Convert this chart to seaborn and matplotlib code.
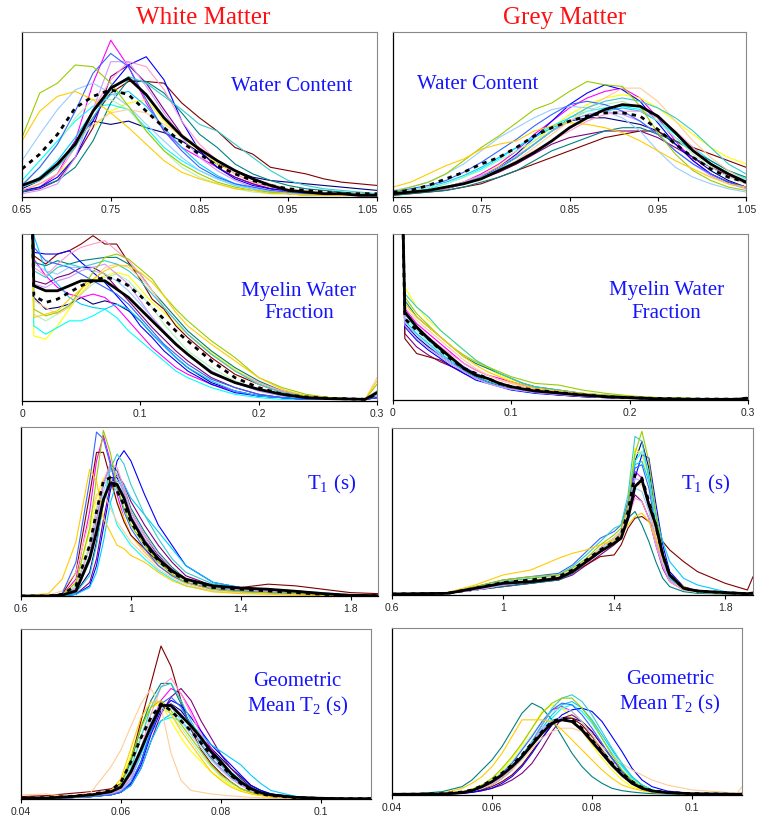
import matplotlib
matplotlib.use("Agg")
import matplotlib.pyplot as plt
import seaborn as sns
import pandas as pd

# Subjects (one colour per subject, same subject in every panel)
subject_ids = ["S%02d" % i for i in range(1, 19)]
subject_colors = ["#000080", "#FF00FF", "#FFFF00", "#00FFFF", "#800080", "#800000",
                  "#008080", "#0000FF", "#00CCFF", "#B3F2B3", "#99CCFF", "#FF99CC",
                  "#CC99FF", "#FFCC99", "#3366FF", "#33CCCC", "#99CC00", "#FFCC00"]

# ---------------- Water content ----------------
water_x = [0.65, 0.67, 0.69, 0.71, 0.73, 0.75, 0.77, 0.79, 0.81, 0.83, 0.85,
           0.87, 0.89, 0.91, 0.93, 0.95, 0.97, 0.99, 1.01, 1.03, 1.05]
water_ticks = [0.65, 0.75, 0.85, 0.95, 1.05]
water_tick_labels = ["0.65", "0.75", "0.85", "0.95", "1.05"]

wm_water = [
    [5, 10, 18, 34, 46, 44, 46, 42, 39, 34, 27, 20, 16, 12, 10, 9, 8, 7, 6, 5, 4],
    [3, 6, 14, 34, 69, 95, 79, 57, 40, 30, 24, 18, 12, 8, 5, 3, 2, 2, 1, 1, 1],
    [4, 8, 14, 24, 42, 52, 57, 59, 46, 36, 28, 20, 14, 9, 6, 4, 3, 2, 2, 1, 1],
    [10, 22, 34, 46, 55, 56, 53, 42, 30, 22, 16, 11, 7, 5, 3, 2, 2, 1, 1, 1, 1],
    [3, 5, 10, 24, 42, 73, 80, 69, 53, 38, 28, 18, 12, 8, 5, 4, 3, 2, 2, 1, 1],
    [6, 12, 20, 32, 48, 63, 70, 70, 69, 57, 48, 40, 30, 26, 18, 16, 14, 11, 9, 8, 7],
    [3, 6, 10, 18, 34, 57, 71, 70, 63, 51, 38, 30, 20, 14, 10, 7, 5, 4, 3, 2, 2],
    [4, 6, 12, 24, 46, 67, 80, 85, 71, 46, 28, 18, 11, 7, 5, 4, 3, 2, 2, 1, 1],
    [6, 12, 22, 36, 52, 62, 64, 55, 42, 30, 20, 13, 8, 5, 3, 2, 2, 1, 1, 1, 1],
    [8, 18, 32, 48, 59, 59, 53, 40, 28, 18, 12, 8, 5, 3, 2, 2, 1, 1, 1, 1, 1],
    [22, 38, 53, 65, 69, 63, 55, 44, 34, 24, 16, 11, 7, 5, 3, 2, 2, 1, 1, 1, 1],
    [4, 8, 14, 30, 53, 71, 82, 79, 65, 46, 32, 22, 14, 9, 6, 4, 3, 2, 2, 1, 1],
    [2, 4, 8, 24, 53, 82, 82, 67, 51, 36, 24, 16, 10, 6, 4, 3, 2, 2, 1, 1, 1],
    [6, 10, 18, 32, 44, 51, 53, 51, 44, 38, 30, 22, 16, 11, 8, 5, 4, 3, 2, 2, 1],
    [7, 18, 32, 52, 75, 87, 79, 59, 40, 28, 18, 12, 8, 6, 4, 3, 2, 2, 1, 1, 1],
    [6, 10, 18, 30, 48, 65, 73, 69, 61, 53, 44, 40, 32, 24, 16, 10, 7, 5, 4, 3, 2],
    [36, 63, 69, 80, 79, 69, 55, 40, 28, 20, 14, 9, 6, 4, 3, 2, 1, 1, 1, 1, 1],
    [34, 52, 61, 64, 59, 51, 42, 32, 22, 15, 11, 8, 5, 4, 2, 2, 1, 1, 1, 1, 1],
]
wm_water_mean = [7, 11, 20, 32, 52, 66, 72, 62, 48, 37, 29, 22, 16, 11, 7, 4, 3, 2, 2, 1, 1]
wm_water_ref = [17, 26, 38, 54, 61, 65, 62, 52, 42, 33, 26, 19, 14, 10, 7, 5, 4, 3, 2, 2, 2]

gm_water = [
    [2, 3, 4, 6, 9, 13, 18, 24, 32, 40, 46, 48, 48, 46, 44, 40, 32, 24, 16, 10, 6],
    [2, 3, 4, 6, 9, 14, 20, 28, 38, 46, 54, 60, 64, 66, 60, 48, 34, 22, 14, 9, 6],
    [2, 3, 4, 6, 9, 13, 19, 26, 34, 42, 50, 56, 60, 62, 60, 54, 46, 38, 30, 24, 20],
    [2, 3, 5, 8, 12, 17, 23, 30, 37, 43, 48, 52, 54, 55, 53, 46, 38, 30, 22, 16, 11],
    [2, 3, 4, 5, 8, 11, 15, 20, 26, 32, 36, 38, 40, 40, 40, 36, 30, 24, 18, 13, 9],
    [1, 2, 3, 4, 6, 8, 12, 16, 20, 24, 28, 32, 36, 38, 40, 40, 34, 30, 26, 22, 18],
    [1, 2, 3, 4, 6, 9, 12, 16, 22, 28, 32, 36, 40, 42, 42, 38, 34, 28, 22, 16, 12],
    [2, 3, 4, 5, 8, 12, 18, 26, 36, 46, 56, 63, 68, 65, 58, 45, 32, 22, 14, 9, 6],
    [3, 4, 6, 9, 13, 18, 24, 30, 36, 42, 46, 50, 52, 54, 52, 46, 36, 28, 20, 14, 10],
    [3, 4, 6, 8, 12, 16, 22, 28, 34, 40, 46, 52, 56, 58, 54, 46, 36, 26, 18, 12, 8],
    [4, 6, 9, 14, 20, 28, 36, 42, 48, 53, 55, 54, 52, 48, 40, 28, 18, 12, 8, 5, 3],
    [2, 3, 4, 6, 8, 12, 16, 22, 28, 34, 40, 46, 50, 52, 52, 48, 40, 30, 20, 13, 8],
    [2, 3, 4, 6, 9, 13, 18, 25, 32, 40, 46, 50, 52, 50, 46, 38, 28, 20, 13, 8, 5],
    [2, 3, 4, 5, 8, 11, 16, 22, 30, 38, 46, 54, 60, 66, 66, 58, 46, 34, 24, 16, 10],
    [3, 5, 7, 10, 15, 21, 28, 35, 43, 50, 56, 58, 56, 52, 46, 38, 28, 20, 14, 9, 6],
    [2, 3, 4, 6, 8, 12, 17, 24, 32, 40, 48, 54, 58, 60, 58, 54, 48, 40, 30, 20, 14],
    [3, 6, 9, 14, 22, 30, 37, 45, 53, 57, 64, 70, 68, 67, 55, 39, 26, 16, 10, 6, 4],
    [6, 9, 14, 19, 23, 29, 32, 34, 40, 43, 45, 44, 42, 39, 34, 28, 22, 17, 12, 8, 6],
]
gm_water_mean = [2, 3, 4, 6, 8, 11, 16, 21, 27, 34, 42, 48, 53, 56, 55, 49, 39, 28, 20, 14, 9]
gm_water_ref = [3, 4, 7, 11, 15, 20, 24, 30, 37, 42, 46, 49, 51, 51, 49, 41, 32, 24, 17, 12, 9]

# ---------------- Myelin water fraction ----------------
mwf_ticks = [0, 0.1, 0.2, 0.3]
mwf_tick_labels = ["0", "0.1", "0.2", "0.3"]

wm_mwf_x = [0, 0.01, 0.02, 0.03, 0.04, 0.05, 0.06, 0.07, 0.08, 0.09, 0.10, 0.11,
            0.12, 0.13, 0.14, 0.16, 0.18, 0.20, 0.22, 0.24, 0.26, 0.29, 0.30]
wm_mwf = [
    [400, 62, 55, 56, 58, 62, 58, 60, 58, 54, 48, 40, 33, 26, 20, 11, 6, 3, 2, 1, 1, 1, 2],
    [400, 85, 75, 68, 64, 62, 64, 62, 56, 48, 40, 32, 26, 20, 16, 10, 6, 3, 2, 1, 1, 1, 2],
    [400, 39, 37, 45, 55, 65, 72, 75, 77, 75, 67, 59, 53, 46, 40, 29, 19, 11, 6, 3, 2, 1, 6],
    [400, 45, 40, 44, 48, 48, 51, 55, 50, 42, 36, 30, 24, 18, 14, 8, 4, 2, 1, 1, 1, 1, 3],
    [400, 72, 70, 74, 76, 80, 80, 76, 68, 60, 52, 44, 37, 30, 24, 14, 8, 4, 2, 1, 1, 1, 2],
    [400, 87, 82, 88, 90, 94, 99, 94, 94, 83, 73, 61, 55, 45, 38, 26, 16, 10, 5, 3, 2, 1, 4],
    [400, 83, 81, 84, 82, 84, 85, 86, 86, 82, 76, 66, 58, 50, 42, 30, 20, 12, 6, 3, 2, 1, 4],
    [400, 89, 88, 88, 90, 83, 77, 71, 63, 55, 45, 38, 30, 24, 18, 10, 5, 3, 2, 1, 1, 1, 2],
    [400, 99, 78, 70, 62, 58, 56, 55, 58, 55, 48, 40, 33, 26, 20, 12, 6, 3, 2, 1, 1, 1, 3],
    [400, 52, 48, 52, 58, 64, 70, 74, 76, 72, 64, 56, 46, 38, 30, 20, 12, 7, 3, 2, 1, 1, 4],
    [400, 82, 78, 76, 80, 80, 78, 76, 72, 66, 58, 50, 42, 35, 28, 18, 11, 6, 3, 2, 1, 1, 3],
    [400, 80, 75, 82, 88, 92, 94, 96, 90, 84, 76, 66, 56, 48, 40, 28, 18, 11, 6, 3, 2, 1, 6],
    [400, 70, 68, 72, 74, 78, 80, 82, 76, 70, 60, 50, 42, 34, 28, 18, 11, 6, 3, 2, 1, 1, 3],
    [400, 60, 56, 52, 56, 64, 72, 80, 82, 80, 74, 66, 56, 48, 40, 28, 18, 10, 5, 3, 2, 1, 14],
    [400, 92, 84, 82, 80, 76, 72, 68, 64, 58, 50, 42, 34, 28, 22, 13, 8, 4, 2, 1, 1, 1, 2],
    [400, 78, 74, 80, 82, 80, 82, 84, 82, 78, 72, 64, 56, 48, 40, 28, 18, 10, 5, 3, 2, 1, 6],
    [400, 55, 51, 53, 57, 67, 77, 86, 88, 85, 79, 73, 63, 55, 48, 36, 26, 14, 8, 4, 2, 1, 10],
    [400, 50, 52, 54, 61, 67, 73, 78, 81, 81, 77, 71, 63, 53, 45, 34, 24, 14, 7, 3, 2, 1, 12],
]
wm_mwf_mean = [400, 69, 66, 66, 69, 72, 72, 72, 67, 62, 55, 48, 41, 34, 28, 17, 11, 7, 4, 2, 1.4, 1, 5]
wm_mwf_ref = [400, 63, 59, 61, 65, 69, 72, 74, 73, 69, 63, 56, 49, 42, 36, 24, 14, 8, 4, 2.4, 1.6, 1, 4]

gm_mwf_x = [0, 0.01, 0.02, 0.03, 0.04, 0.05, 0.06, 0.07, 0.08, 0.09, 0.10,
            0.11, 0.12, 0.14, 0.16, 0.18, 0.20, 0.22, 0.25, 0.29, 0.30]
gm_mwf = [
    [400, 46, 38, 32, 27, 22, 18, 14, 11, 9, 7, 6, 5, 3.6, 2.5, 1.6, 1, 0.6, 0.4, 0.3, 0.8],
    [400, 55, 46, 40, 34, 28, 22, 18, 15, 13, 11, 9, 7, 5, 3.5, 2.5, 1.6, 1, 0.6, 0.4, 1],
    [400, 68, 56, 48, 42, 36, 30, 24, 19, 15, 12, 10, 8, 6, 4, 3, 2, 1.4, 1, 0.6, 1.2],
    [400, 50, 42, 36, 30, 24, 19, 15, 12, 10, 8, 6.5, 5.5, 4, 3, 2, 1.3, 0.8, 0.5, 0.4, 0.8],
    [400, 40, 32, 27, 23, 20, 16, 13, 11, 9, 7, 5.5, 4.5, 3.2, 2.2, 1.5, 1, 0.6, 0.4, 0.3, 0.8],
    [400, 37, 28, 26, 24, 20, 17, 14, 11, 9, 7, 5.5, 4.5, 3, 2, 1.4, 1, 0.6, 0.4, 0.3, 0.8],
    [400, 60, 50, 44, 38, 32, 26, 22, 19, 16, 13, 10, 8, 6, 4, 2.8, 1.8, 1.2, 0.8, 0.5, 1],
    [400, 44, 36, 30, 25, 20, 16, 12, 10, 8, 6, 5, 4, 3, 2, 1.4, 1, 0.6, 0.4, 0.3, 0.8],
    [400, 48, 40, 34, 28, 23, 18, 14, 11, 9, 7.5, 6, 5, 3.8, 2.7, 1.8, 1.2, 0.8, 0.5, 0.4, 0.8],
    [400, 50, 42, 35, 29, 24, 19, 15, 12, 9.5, 7.5, 6, 5, 3.6, 2.5, 1.6, 1, 0.6, 0.4, 0.3, 0.8],
    [400, 47, 39, 33, 27, 22, 17, 13, 10, 8, 6.5, 5.5, 4.5, 3.4, 2.4, 1.6, 1, 0.6, 0.4, 0.3, 0.8],
    [400, 52, 44, 38, 32, 27, 22, 18, 15, 12, 10, 8, 6.5, 4.8, 3.4, 2.3, 1.5, 1, 0.6, 0.4, 0.9],
    [400, 45, 37, 31, 26, 21, 17, 13, 10, 8, 6.5, 5.5, 4.5, 3.3, 2.3, 1.5, 1, 0.6, 0.4, 0.3, 0.8],
    [400, 56, 48, 42, 36, 30, 24, 19, 15, 12, 10, 8, 6.5, 5, 3.5, 2.4, 1.6, 1, 0.6, 0.4, 1],
    [400, 52, 43, 36, 30, 25, 20, 16, 13, 10, 8, 6.5, 5.5, 4, 3, 2, 1.3, 0.8, 0.5, 0.4, 0.8],
    [400, 64, 56, 50, 42, 36, 30, 24, 20, 16, 13, 10, 8, 6, 4, 3, 2, 1.4, 1, 0.6, 1],
    [400, 62, 52, 45, 38, 32, 27, 23, 20, 17, 14, 12, 10, 9, 6, 4, 2.5, 1.6, 1, 0.6, 1],
    [400, 58, 50, 44, 38, 32, 26, 21, 17, 14, 11, 9, 7, 5.5, 4, 2.8, 1.8, 1.2, 0.8, 0.5, 1],
]
gm_mwf_mean = [400, 53, 44, 37, 31, 25, 19, 15, 13, 10, 8, 6.6, 5.4, 4.2, 3, 2, 1.4, 0.8, 0.4, 0.4, 1]
gm_mwf_ref = [400, 49, 42, 37, 30, 24, 19, 16, 13, 10, 8, 7, 6, 4.5, 3.2, 2, 1.4, 1, 0.6, 0.5, 1.2]

# ---------------- T1 ----------------
t1_ticks = [0.6, 1.0, 1.4, 1.8]
t1_tick_labels = ["0.6", "1", "1.4", "1.8"]

wm_t1_x = [0.6, 0.7, 0.75, 0.8, 0.85, 0.875, 0.9, 0.925, 0.95, 0.975, 1.0,
           1.05, 1.1, 1.15, 1.2, 1.3, 1.4, 1.5, 1.6, 1.7, 1.8, 1.9]
wm_t1 = [
    [0, 0, 0, 2, 14, 32, 55, 70, 70, 62, 50, 36, 24, 16, 10, 5, 4, 3, 2, 1, 0.4, 0.2],
    [0, 0, 0.5, 10, 50, 80, 95, 80, 60, 46, 36, 26, 18, 12, 8, 4, 2.5, 2, 1.5, 1, 0.5, 0.2],
    [0, 0, 1, 8, 38, 58, 70, 66, 56, 46, 36, 26, 18, 12, 8, 4, 3, 2, 1.5, 1, 0.4, 0.2],
    [0, 0, 0.5, 6, 30, 52, 62, 55, 42, 36, 30, 22, 15, 10, 6, 3, 2, 1.5, 1, 0.5, 0.2, 0.1],
    [0, 0, 0, 1, 8, 22, 45, 65, 72, 66, 56, 42, 30, 20, 12, 6, 4, 3, 2, 1, 0.4, 0.2],
    [0, 0, 1, 14, 60, 85, 85, 70, 55, 44, 36, 28, 20, 14, 10, 6, 5, 7, 6, 4, 2, 1.4],
    [0, 0, 0.5, 4, 24, 45, 66, 78, 74, 64, 52, 38, 26, 17, 10, 5, 4, 3, 2, 1, 0.4, 0.2],
    [0, 0, 0, 1, 6, 18, 40, 62, 80, 86, 80, 60, 42, 30, 18, 8, 5, 4, 3, 1.5, 0.5, 0.2],
    [0, 0, 0, 1, 5, 14, 32, 55, 68, 66, 58, 48, 38, 28, 18, 8, 5, 4, 3, 2, 0.5, 0.2],
    [0, 0, 1, 6, 30, 52, 66, 70, 62, 52, 42, 30, 20, 13, 8, 4, 3, 2, 1.5, 1, 0.4, 0.2],
    [0, 0, 0.5, 4, 20, 40, 62, 74, 72, 62, 50, 36, 25, 16, 10, 5, 4, 3, 2, 1, 0.4, 0.2],
    [0, 0, 0.5, 5, 28, 50, 68, 78, 76, 64, 50, 36, 25, 16, 10, 5, 4, 3, 2, 1, 0.4, 0.2],
    [0, 0, 0.5, 4, 22, 44, 66, 76, 72, 60, 48, 34, 23, 15, 9, 5, 4, 3, 2, 1, 0.4, 0.2],
    [0, 0.5, 3, 14, 45, 60, 62, 52, 44, 38, 32, 24, 16, 11, 7, 3, 2, 1.5, 1, 0.5, 0.2, 0.1],
    [0, 0, 1.4, 20, 68, 97, 93, 78, 64, 50, 40, 28, 18, 12, 8, 4, 3, 2, 1.5, 1, 0.5, 0.2],
    [0, 0, 0, 2, 12, 30, 55, 75, 84, 78, 66, 48, 34, 22, 14, 7, 5, 4, 3, 1.5, 0.5, 0.2],
    [0, 0, 0.5, 8, 40, 70, 98, 85, 65, 52, 42, 30, 20, 13, 8, 4, 2.5, 2, 1.5, 1, 0.5, 0.2],
    [0, 1.4, 10, 32, 75, 68, 46, 38, 30, 28, 24, 20, 14, 9, 6, 2.4, 1.4, 1, 0.5, 0.3, 0.2, 0.1],
]
wm_t1_mean = [0, 0, 0.5, 3, 22, 38, 57, 67, 66, 58, 46, 32, 22, 15, 10, 6, 4.7, 4, 2.8, 1.4, 0.4, 0.2]
wm_t1_ref = [0, 0, 1, 6, 30, 50, 68, 70, 62, 54, 44, 31, 21, 14, 9, 5, 4, 3, 2, 1, 0.3, 0.2]

gm_t1_x = [0.6, 0.8, 0.9, 1.0, 1.1, 1.2, 1.25, 1.3, 1.35, 1.4, 1.425, 1.45,
           1.475, 1.5, 1.525, 1.55, 1.575, 1.6, 1.65, 1.7, 1.8, 1.88, 1.9]
gm_t1 = [
    [0.5, 1, 3, 6, 8, 10, 14, 20, 28, 34, 38, 50, 80, 92, 76, 46, 24, 12, 4, 2, 1, 0.6, 1],
    [0.5, 1, 3, 6, 8, 9, 13, 19, 26, 32, 36, 52, 74, 70, 56, 34, 18, 9, 3, 2, 1, 0.6, 1],
    [0.5, 1, 4, 8, 10, 11, 14, 20, 28, 34, 38, 56, 88, 84, 68, 44, 24, 12, 4, 2, 1, 0.6, 1],
    [0.5, 1, 3, 6, 8, 10, 14, 20, 26, 32, 36, 50, 80, 86, 72, 46, 24, 11, 4, 2, 1, 0.6, 1],
    [0.5, 1, 3, 5, 7, 9, 12, 18, 24, 30, 34, 46, 60, 56, 46, 30, 16, 8, 3, 2, 1, 0.6, 1],
    [0.5, 1, 3, 6, 7, 10, 14, 18, 23, 24, 30, 40, 46, 47, 44, 38, 32, 27, 20, 14, 7, 3, 11],
    [0.5, 1, 3, 5, 7, 9, 13, 19, 26, 32, 38, 46, 50, 42, 32, 20, 10, 5, 2, 1, 0.6, 0.3, 0.6],
    [0.5, 1, 3, 6, 8, 10, 14, 20, 28, 34, 38, 48, 70, 84, 82, 55, 30, 14, 5, 2.4, 1.2, 0.6, 1],
    [0.5, 1, 3, 6, 8, 10, 14, 20, 27, 33, 38, 54, 78, 80, 68, 48, 32, 20, 10, 6, 2, 0.8, 1],
    [0.5, 1, 3, 6, 8, 10, 14, 20, 27, 33, 38, 56, 84, 86, 70, 44, 22, 8, 3, 1.5, 1, 0.6, 1],
    [0.5, 1, 3, 6, 8, 10, 14, 20, 27, 34, 38, 50, 64, 62, 50, 32, 18, 9, 3, 2, 1, 0.6, 1],
    [0.5, 1, 3, 6, 8, 10, 14, 19, 26, 32, 36, 46, 58, 56, 46, 30, 17, 8, 3, 2, 1, 0.6, 1],
    [0.5, 1, 3, 6, 8, 10, 14, 20, 28, 34, 38, 52, 70, 68, 54, 34, 18, 9, 3, 2, 1, 0.6, 1],
    [0.5, 1, 4, 7, 9, 11, 15, 21, 28, 34, 38, 50, 66, 66, 54, 36, 20, 10, 3, 2, 1, 0.6, 1],
    [0.5, 1.5, 5, 9, 11, 13, 18, 26, 34, 38, 42, 56, 76, 78, 64, 40, 22, 10, 4, 2, 1, 0.6, 1],
    [0.5, 1, 4, 8, 10, 12, 17, 24, 32, 40, 42, 60, 95, 92, 70, 42, 22, 10, 4, 2, 1, 0.6, 1],
    [0.5, 1, 5, 9, 11, 12, 16, 22, 30, 36, 40, 54, 85, 98, 80, 50, 26, 12, 4, 2, 1, 0.6, 1],
    [0.5, 1.5, 6, 12, 15, 22, 25, 27, 30, 33, 36, 42, 47, 49, 44, 34, 22, 12, 5, 2.4, 1, 0.6, 1],
]
gm_t1_mean = [0.6, 1, 4, 7, 8, 10, 14, 20, 26, 31, 34, 46, 65, 69, 54, 42, 24, 12, 4, 2.4, 1.4, 0.8, 1.2]
gm_t1_ref = [0.6, 1, 4, 7.5, 9, 11, 15, 21, 27, 32, 36, 50, 72, 70, 56, 42, 24, 12, 4, 2.4, 1.4, 0.8, 1]

# ---------------- Geometric mean T2 ----------------
t2_ticks = [0.04, 0.06, 0.08, 0.1]
t2_tick_labels = ["0.04", "0.06", "0.08", "0.1"]

wm_t2_x = [0.04, 0.045, 0.05, 0.054, 0.058, 0.06, 0.062, 0.064, 0.066, 0.068, 0.07, 0.072,
           0.074, 0.076, 0.078, 0.08, 0.082, 0.084, 0.086, 0.088, 0.09, 0.095, 0.1, 0.105, 0.11]
wm_t2 = [
    [0.4, 0.6, 0.8, 1.4, 2.5, 4, 9, 22, 40, 54, 56, 52, 44, 36, 30, 24, 18, 13, 8, 5, 3, 1, 0.4, 0.2, 0.2],
    [0.4, 0.6, 1, 1.6, 3, 5, 12, 26, 44, 58, 65, 62, 52, 40, 30, 22, 15, 10, 6, 4, 2.4, 1, 0.4, 0.2, 0.2],
    [0.4, 0.6, 1, 2, 4, 10, 26, 44, 54, 56, 46, 36, 28, 22, 16, 12, 8, 5, 3, 2, 1.2, 0.6, 0.3, 0.2, 0.2],
    [0.4, 0.6, 0.8, 1.4, 2.5, 5, 12, 26, 40, 46, 48, 46, 40, 34, 28, 22, 16, 11, 7, 4, 2.4, 1, 0.4, 0.2, 0.2],
    [0.4, 0.6, 0.8, 1.4, 2.5, 4, 8, 18, 34, 50, 60, 65, 58, 46, 36, 26, 18, 12, 7, 4, 2.4, 1, 0.4, 0.2, 0.2],
    [1.4, 2, 3.3, 4.3, 6, 9, 23, 46, 68, 90, 78, 58, 41, 29, 21, 15, 10, 6, 4, 2.4, 1.4, 0.6, 0.3, 0.2, 0.2],
    [0.4, 0.6, 1, 2, 4, 8, 22, 42, 58, 68, 68, 56, 42, 32, 24, 18, 13, 9, 6, 3.5, 2, 0.8, 0.4, 0.2, 0.2],
    [0.4, 0.6, 0.8, 1.4, 2.5, 4, 9, 20, 38, 52, 58, 55, 48, 40, 32, 26, 20, 14, 8, 5, 3, 1, 0.4, 0.2, 0.2],
    [0.4, 0.6, 0.8, 1.4, 2.5, 4, 8, 18, 34, 46, 50, 48, 44, 38, 32, 28, 24, 20, 14, 9, 5, 1.5, 0.5, 0.2, 0.2],
    [0.4, 0.6, 1, 2, 4, 8, 20, 38, 50, 54, 50, 42, 34, 26, 19, 13, 9, 6, 4, 2.4, 1.4, 0.6, 0.3, 0.2, 0.2],
    [0.4, 0.6, 0.8, 1.6, 3, 6, 14, 30, 46, 56, 54, 46, 38, 30, 23, 17, 12, 8, 5, 3, 1.8, 0.8, 0.4, 0.2, 0.2],
    [0.4, 0.6, 1, 2, 3, 6, 14, 30, 50, 66, 71, 62, 50, 38, 28, 20, 14, 9, 6, 3.5, 2, 0.8, 0.4, 0.2, 0.2],
    [0.4, 0.6, 0.8, 1.6, 3, 5, 12, 28, 44, 54, 56, 50, 42, 33, 25, 18, 12, 8, 5, 3, 1.8, 0.8, 0.4, 0.2, 0.2],
    [2.4, 3, 1.4, 4, 19, 29, 43, 56, 65, 54, 27, 11, 5, 4, 3, 2.4, 1.8, 1.4, 1, 0.8, 0.6, 0.3, 0.2, 0.2, 0.2],
    [0.4, 0.6, 0.8, 1.4, 2.5, 4, 10, 22, 40, 56, 60, 54, 44, 35, 27, 20, 14, 9, 6, 3.5, 2, 0.8, 0.4, 0.2, 0.2],
    [0.4, 0.6, 1, 2, 4, 7, 18, 36, 54, 66, 68, 58, 46, 35, 27, 20, 14, 10, 6, 4, 2.4, 1, 0.4, 0.2, 0.2],
    [0.4, 0.6, 1, 2, 4, 9, 24, 42, 54, 58, 52, 44, 36, 28, 20, 14, 10, 6, 4, 2.4, 1.4, 0.6, 0.3, 0.2, 0.2],
    [0.4, 0.6, 1, 2, 5, 12, 30, 48, 57, 57, 50, 40, 32, 24, 16, 11, 7, 4.5, 3, 2, 1.2, 0.6, 0.3, 0.2, 0.2],
]
wm_t2_mean = [0.4, 0.6, 1.4, 2.4, 4.3, 7, 16, 29, 43, 55, 55, 49, 43, 36, 28, 22, 15, 10, 6, 3.7, 2.4, 1, 0.4, 0.2, 0.2]
wm_t2_ref = [0.6, 0.8, 1.6, 2.6, 5, 10, 22, 36, 48, 56, 52, 46, 40, 33, 26, 20, 14, 9, 5, 3, 2, 0.8, 0.4, 0.2, 0.2]

gm_t2_x = [0.04, 0.045, 0.05, 0.054, 0.056, 0.058, 0.06, 0.062, 0.064, 0.066, 0.068, 0.07, 0.072, 0.074,
           0.076, 0.078, 0.08, 0.082, 0.084, 0.086, 0.088, 0.09, 0.092, 0.095, 0.1, 0.105, 0.109, 0.11]
gm_t2 = [
    [0.4, 0.4, 0.6, 1.2, 2.2, 3.6, 6, 10, 15, 22, 30, 38, 44, 46, 46, 44, 38, 30, 22, 14, 8, 4.5, 2.4, 1.2, 0.6, 0.4, 0.4, 0.4],
    [0.4, 0.5, 0.6, 1.4, 2.6, 4.5, 7, 11, 16, 23, 32, 42, 51, 53, 50, 44, 36, 27, 19, 12, 7, 4, 2, 1, 0.6, 0.4, 0.4, 0.4],
    [0.4, 0.5, 0.8, 2, 3.5, 6, 10, 15, 22, 30, 40, 50, 54, 52, 46, 38, 30, 22, 15, 9, 5, 3, 1.8, 1, 0.6, 0.4, 0.4, 0.4],
    [0.4, 0.5, 0.6, 1.4, 2.4, 4, 7, 11, 16, 22, 30, 38, 46, 52, 54, 50, 43, 34, 25, 17, 10, 6, 3, 1.4, 0.6, 0.4, 0.4, 0.4],
    [0.4, 0.4, 0.5, 1, 1.6, 2.6, 4, 6, 9, 13, 19, 28, 38, 46, 48, 44, 38, 30, 22, 14, 8, 4.5, 2.4, 1.2, 0.6, 0.4, 0.4, 0.4],
    [0.4, 0.4, 0.5, 1, 1.8, 3, 5, 8, 12, 18, 26, 34, 42, 46, 46, 42, 35, 27, 19, 12, 7, 4, 2, 1, 0.6, 0.4, 0.4, 0.4],
    [0.4, 0.8, 2, 5, 9, 15, 21, 29, 39, 49, 55, 52, 45, 35, 25, 17, 11, 7, 4, 2.6, 1.8, 1.2, 0.8, 0.6, 0.4, 0.4, 0.4, 0.4],
    [0.4, 0.4, 0.5, 1, 1.6, 2.6, 4, 7, 11, 17, 25, 34, 42, 48, 51, 52, 50, 44, 35, 26, 16, 9, 5, 2.4, 0.8, 0.4, 0.4, 0.4],
    [0.4, 0.5, 0.6, 1.4, 2.4, 4, 7, 11, 16, 23, 31, 40, 48, 54, 56, 52, 45, 36, 27, 18, 11, 6, 3, 1.5, 0.6, 0.4, 0.4, 0.4],
    [0.4, 0.5, 0.8, 1.8, 3, 5, 9, 14, 20, 28, 36, 44, 50, 52, 50, 44, 36, 28, 20, 13, 8, 4.5, 2.4, 1.2, 0.6, 0.4, 0.4, 0.4],
    [0.4, 0.5, 0.6, 1.4, 2.4, 4, 7, 11, 17, 24, 32, 40, 45, 46, 44, 39, 32, 25, 18, 12, 7, 4, 2, 1, 0.6, 0.4, 0.4, 0.4],
    [0.4, 0.5, 0.6, 1.4, 2.4, 4, 7, 11, 16, 23, 31, 38, 43, 45, 44, 40, 33, 26, 19, 12, 7, 4, 2, 1, 0.6, 0.4, 0.4, 0.4],
    [0.4, 0.5, 0.6, 1.4, 2.4, 4, 7, 11, 16, 23, 31, 39, 44, 46, 44, 38, 31, 24, 17, 11, 7, 4, 2, 1, 0.6, 0.4, 0.4, 0.4],
    [0.4, 0.5, 0.8, 1.6, 2.6, 4, 6, 10, 15, 21, 28, 34, 38, 40, 40, 38, 34, 29, 24, 19, 15, 12, 9, 6, 3, 2, 1, 5],
    [0.4, 0.5, 0.7, 1.6, 2.8, 4.6, 8, 13, 19, 27, 35, 44, 51, 55, 54, 48, 40, 31, 22, 14, 8, 4.5, 2.4, 1.2, 0.6, 0.4, 0.4, 0.4],
    [0.4, 0.5, 0.6, 1.4, 2.6, 4.5, 8, 12, 17, 24, 32, 42, 52, 58, 60, 56, 48, 38, 28, 19, 11, 6, 3, 1.5, 0.6, 0.4, 0.4, 0.4],
    [0.4, 0.5, 0.8, 2, 3.5, 6, 10, 16, 23, 31, 40, 49, 55, 58, 58, 52, 44, 34, 24, 15, 9, 5, 2.6, 1.4, 0.6, 0.4, 0.4, 0.4],
    [0.4, 0.6, 1, 4, 7, 11, 17, 25, 35, 45, 45, 45, 44, 39, 33, 27, 21, 15, 10, 6, 4, 2.6, 1.6, 1, 0.6, 0.4, 0.4, 0.4],
]
gm_t2_mean = [0.4, 0.5, 0.6, 1.4, 2.6, 5, 8, 12, 17, 23, 30, 37, 43, 45, 44, 39, 32, 25, 18, 12, 7, 4, 2.4, 1.4, 0.8, 0.6, 0.4, 0.6]
gm_t2_ref = [0.4, 0.5, 0.8, 1.8, 3, 5.5, 9, 13, 18, 24, 31, 38, 44, 46, 45, 40, 33, 26, 19, 13, 8, 4.5, 2.6, 1.5, 0.8, 0.6, 0.4, 0.6]


# Turn one panel's subject curves into a long table for seaborn
def long_frame(x, curves):
    frames = []
    for sid, ys in zip(subject_ids, curves):
        assert len(ys) == len(x), (sid, len(ys), len(x))
        frames.append(pd.DataFrame({"x": x, "freq": ys, "subject": sid}))
    return pd.concat(frames, ignore_index=True)


def draw_panel(ax, x, curves, mean, ref, xlim, ticks, tick_labels, label, label_xy):
    df = long_frame(x, curves)
    sns.lineplot(data=df, x="x", y="freq", hue="subject", palette=dict(zip(subject_ids, subject_colors)),
                 estimator=None, sort=False, errorbar=None, legend=False, linewidth=0.8, ax=ax)

    # group mean (solid) and reference (dashed)
    sns.lineplot(x=x, y=mean, color="black", linewidth=2.0, estimator=None, sort=False,
                 errorbar=None, ax=ax, zorder=5)
    sns.lineplot(x=x, y=ref, color="black", linewidth=2.0, linestyle=(0, (1.6, 1.8)),
                 estimator=None, sort=False, errorbar=None, ax=ax, zorder=6)

    ax.set_xlim(*xlim)
    ax.set_ylim(0, 100)
    ax.set_xticks(ticks)
    ax.set_xticklabels(tick_labels)
    ax.set_yticks([])
    ax.set_xlabel("")
    ax.set_ylabel("")
    ax.tick_params(axis="x", bottom=True, direction="out", length=3, width=0.8,
                   pad=3, labelsize=7.5, color="black")
    for side in ["top", "right"]:
        ax.spines[side].set_color("#888888")
        ax.spines[side].set_linewidth(0.8)
    for side in ["left", "bottom"]:
        ax.spines[side].set_color("black")
        ax.spines[side].set_linewidth(0.9)

    ax.text(label_xy[0], label_xy[1], label, transform=ax.transAxes, ha="center", va="center",
            fontsize=15, color="#1414FF", family="Liberation Serif", linespacing=1.25)


sns.set_style("white")
plt.rcParams["font.family"] = ["Liberation Sans", "DejaVu Sans"]

W, H = 770, 816
fig = plt.figure(figsize=(W / 100, H / 100), dpi=100)


def add_axes(x0, y0, x1, y1):
    return fig.add_axes([x0 / W, 1 - y1 / H, (x1 - x0) / W, (y1 - y0) / H])


mwf_label = "Myelin Water\nFraction"
t1_label = "T$_\\mathregular{1}$ (s)"
t2_label = "Geometric\nMean T$_\\mathregular{2}$ (s)"

panels = [
    ((22, 32, 377, 197), water_x, wm_water, wm_water_mean, wm_water_ref, (0.65, 1.05),
     water_ticks, water_tick_labels, "Water Content", (0.76, 0.67)),
    ((393, 32, 746, 197), water_x, gm_water, gm_water_mean, gm_water_ref, (0.65, 1.05),
     water_ticks, water_tick_labels, "Water Content", (0.24, 0.68)),
    ((22, 234, 377, 401), wm_mwf_x, wm_mwf, wm_mwf_mean, wm_mwf_ref, (0, 0.3),
     mwf_ticks, mwf_tick_labels, mwf_label, (0.78, 0.59)),
    ((393, 234, 748, 400), gm_mwf_x, gm_mwf, gm_mwf_mean, gm_mwf_ref, (0, 0.3),
     mwf_ticks, mwf_tick_labels, mwf_label, (0.77, 0.59)),
    ((21, 427, 378, 596), wm_t1_x, wm_t1, wm_t1_mean, wm_t1_ref, (0.6, 1.9),
     t1_ticks, t1_tick_labels, t1_label, (0.87, 0.66)),
    ((392, 428, 753, 595), gm_t1_x, gm_t1, gm_t1_mean, gm_t1_ref, (0.6, 1.9),
     t1_ticks, t1_tick_labels, t1_label, (0.87, 0.66)),
    ((21, 629, 371, 799), wm_t2_x, wm_t2, wm_t2_mean, wm_t2_ref, (0.04, 0.11),
     t2_ticks, t2_tick_labels, t2_label, (0.79, 0.61)),
    ((392, 628, 742, 795), gm_t2_x, gm_t2, gm_t2_mean, gm_t2_ref, (0.04, 0.11),
     t2_ticks, t2_tick_labels, t2_label, (0.795, 0.61)),
]

axes = []
for box, x, curves, mean, ref, xlim, ticks, tick_labels, label, label_xy in panels:
    ax = add_axes(*box)
    draw_panel(ax, x, curves, mean, ref, xlim, ticks, tick_labels, label, label_xy)
    axes.append(ax)

# the top row's edge labels sit next to each other; keep them apart
axes[0].get_xticklabels()[-1].set_horizontalalignment("right")
axes[1].get_xticklabels()[0].set_horizontalalignment("left")

# Column titles
fig.text(203 / W, 1 - 18 / H, "White Matter", ha="center", va="center", fontsize=18,
         color="#FF1010", family="Liberation Serif")
fig.text(565 / W, 1 - 18 / H, "Grey Matter", ha="center", va="center", fontsize=18,
         color="#FF1010", family="Liberation Serif")

fig.savefig("out.png", dpi=100)
